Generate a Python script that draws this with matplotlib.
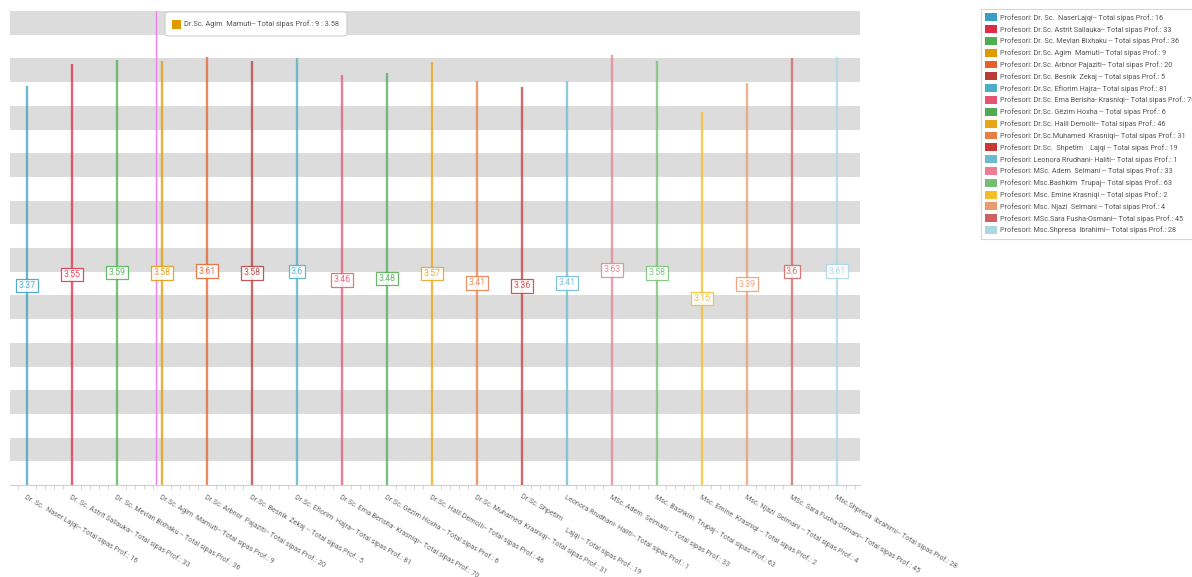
import matplotlib.pyplot as plt
from matplotlib.patches import Patch, FancyBboxPatch, Rectangle
import numpy as np

FONT = ["Roboto", "DejaVu Sans"]
plt.rcParams["font.family"] = FONT

names = [
    "Dr. Sc.  Naser Lajqi-- Total sipas Prof.: 16",
    "Dr. Sc. Astrit Sallauka-- Total sipas Prof.: 33",
    "Dr. Sc. Mevlan Bixhaku -- Total sipas Prof.: 36",
    "Dr.Sc. Agim  Mamuti-- Total sipas Prof.: 9",
    "Dr.Sc. Arbnor  Pajaziti-- Total sipas Prof.: 20",
    "Dr.Sc. Besnik  Zekaj -- Total sipas Prof.: 5",
    "Dr.Sc. Eflorim  Hajra-- Total sipas Prof.: 81",
    "Dr.Sc. Ema Berisha- Krasniqi-- Total sipas Prof.: 70",
    "Dr.Sc. Gëzim Hoxha -- Total sipas Prof.: 6",
    "Dr.Sc. Halil Demolli-- Total sipas Prof.: 46",
    "Dr.Sc. Muhamed  Krasniqi-- Total sipas Prof.: 31",
    "Dr.Sc. Shpetim\n" + " " * 32 + "Lajqi -- Total sipas Prof.: 19",
    "Leonora Rrudhani- Haliti-- Total sipas Prof.: 1",
    "MSc. Adem  Selmani -- Total sipas Prof.: 33",
    "Msc. Bashkim  Trupaj-- Total sipas Prof.: 63",
    "Msc. Emine  Krasniqi -- Total sipas Prof.: 2",
    "Msc. Njazi  Selmani -- Total sipas Prof.: 4",
    "MSc. Sara Fusha-Osmani-- Total sipas Prof.: 45",
    "Msc.Shpresa  Ibrahimi-- Total sipas Prof.: 28",
]

legend_labels = [
    "Profesori: Dr. Sc.  NaserLajqi-- Total sipas Prof.: 16",
    "Profesori: Dr.Sc. Astrit Sallauka-- Total sipas Prof.: 33",
    "Profesori: Dr. Sc. Mevlan Bixhaku -- Total sipas Prof.: 36",
    "Profesori: Dr.Sc. Agim  Mamuti-- Total sipas Prof.: 9",
    "Profesori: Dr.Sc. Arbnor Pajaziti-- Total sipas Prof.: 20",
    "Profesori: Dr.Sc. Besnik  Zekaj -- Total sipas Prof.: 5",
    "Profesori: Dr.Sc. Eflorim Hajra-- Total sipas Prof.: 81",
    "Profesori: Dr.Sc. Ema Berisha- Krasniqi-- Total sipas Prof.: 70",
    "Profesori: Dr.Sc. Gëzim Hoxha -- Total sipas Prof.: 6",
    "Profesori: Dr.Sc. Halil Demolli-- Total sipas Prof.: 46",
    "Profesori: Dr.Sc.Muhamed  Krasniqi-- Total sipas Prof.: 31",
    "Profesori: Dr.Sc.  Shpetim    Lajqi -- Total sipas Prof.: 19",
    "Profesori: Leonora Rrudhani- Haliti-- Total sipas Prof.: 1",
    "Profesori: MSc. Adem  Selmani -- Total sipas Prof.: 33",
    "Profesori: Msc.Bashkim  Trupaj-- Total sipas Prof.: 63",
    "Profesori: Msc. Emine Krasniqi -- Total sipas Prof.: 2",
    "Profesori: Msc. Njazi  Selmani -- Total sipas Prof.: 4",
    "Profesori: MSc.Sara Fusha-Osmani-- Total sipas Prof.: 45",
    "Profesori: Msc.Shpresa  Ibrahimi-- Total sipas Prof.: 28",
]

values = [3.37, 3.55, 3.59, 3.58, 3.61, 3.58, 3.6, 3.46, 3.48, 3.57,
          3.41, 3.36, 3.41, 3.63, 3.58, 3.15, 3.39, 3.6, 3.61]

colors = [
    "#3a9fc0", "#dc2d45", "#4caf50", "#e09a00", "#e5622a", "#b83a3a",
    "#4aaec8", "#e35570", "#52aa55", "#e6a615", "#e87d45", "#c83838",
    "#6cbad0", "#e97f90", "#74bf74", "#f5be28", "#ec9a6e", "#d06060",
    "#a9d7e5",
]

hover_idx = 3
tooltip_text = "Dr.Sc. Agim  Mamuti-- Total sipas Prof.: 9 : 3.58"

W, H = 1192, 577
fig = plt.figure(figsize=(W / 100, H / 100), dpi=100)
ax = fig.add_axes([10 / W, 1 - 485 / H, 850 / W, 474 / H])

x = np.arange(len(values))
ax.set_xlim(-0.38, len(values) - 0.49)
ax.set_ylim(0, 4.0)

# alternating bands
for k in range(10):
    top = 4.0 - 0.4 * k
    ax.axhspan(top - 0.2, top, color="#dcdcdc", lw=0, zorder=0)

ax.vlines(x, 0, values, colors=colors, lw=1.7, alpha=0.75, zorder=2)

# hover crosshair
ax.axvline(hover_idx - 0.13, color="#f080f0", lw=1.0, zorder=3)

for xi, v, c in zip(x, values, colors):
    ax.text(xi, v / 2, f"{v:g}", ha="center", va="center", fontsize=6.3,
            color=c, alpha=0.85, zorder=4,
            bbox=dict(boxstyle="square,pad=0.25", fc="white", ec=c, lw=0.9, alpha=0.85))

for s in ["top", "left", "right"]:
    ax.spines[s].set_visible(False)
ax.spines["bottom"].set_color("#d0d0d0")
ax.spines["bottom"].set_linewidth(0.8)
ax.set_yticks([])

ax.set_xticks(x)
ax.set_xticklabels(names, rotation=-30, ha="left", va="top",
                   rotation_mode="anchor", fontsize=5.1, color="#666666",
                   linespacing=0.8)
ax.set_xticks(np.arange(-0.2, len(values) - 0.4, 0.2), minor=True)
ax.tick_params(axis="x", which="major", length=0, pad=6)
ax.tick_params(axis="x", which="minor", length=3, color="#cccccc", width=0.6)

# tooltip
tip = FancyBboxPatch((165 / W, 1 - 36 / H), 182 / W, 24 / H,
                     boxstyle="round,pad=0,rounding_size=0.004",
                     transform=fig.transFigure, fc="white", ec="#cfcfcf", lw=0.8, zorder=10)
fig.patches.append(tip)
fig.patches.append(Rectangle((172 / W, 1 - 29 / H), 9 / W, 9 / H, transform=fig.transFigure,
                             fc=colors[hover_idx], ec="none", zorder=11))
fig.text(184 / W, 1 - 24 / H, tooltip_text,
         fontsize=5.3, color="#555555", va="center", ha="left", zorder=12)

handles = [Patch(facecolor=c, edgecolor="none") for c in colors]
leg = fig.legend(handles, legend_labels, loc="upper left",
                 bbox_to_anchor=(981 / W, 1 - 9 / H), fontsize=5.2,
                 frameon=True, fancybox=False, edgecolor="#cccccc",
                 handlelength=1.6, handleheight=1.3, handletextpad=0.4,
                 labelspacing=0.48, borderpad=0.6, borderaxespad=0)
leg.get_frame().set_linewidth(0.8)
for t in leg.get_texts():
    t.set_color("#555555")

fig.savefig("out.png", dpi=100)
